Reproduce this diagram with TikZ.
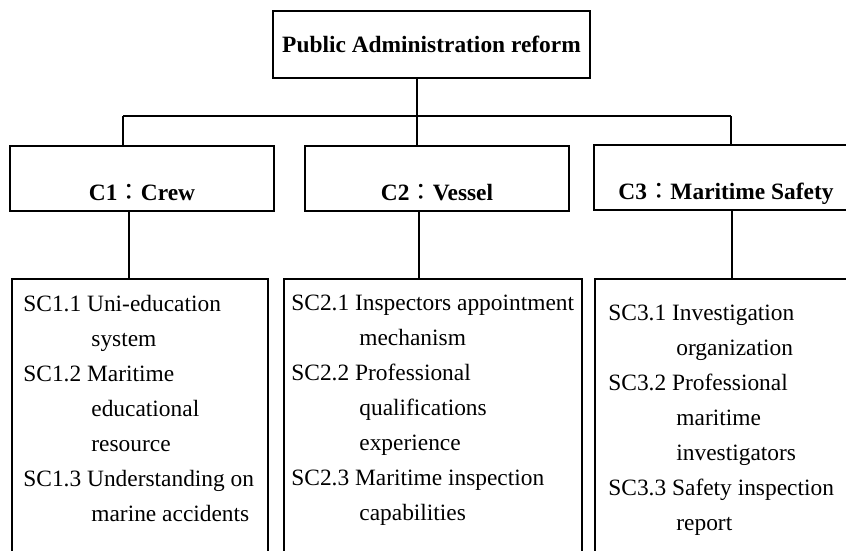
\documentclass[tikz,border=0pt]{standalone}
\usepackage{fontspec}
\setmainfont{Liberation Serif}
\newfontfamily\cjkfont{Noto Sans CJK TC}
\newcommand{\fcolon}{{\mdseries\cjkfont ：}}
\newcommand{\hang}{\hspace*{34pt}}

\tikzset{
    topbox/.style={draw, line width=0.9pt, minimum width=158.5pt, minimum height=33.5pt,
        font=\bfseries\fontsize{11.7}{14}\selectfont},
    critbox/.style={draw, line width=1.4pt, minimum width=132pt, minimum height=32.5pt,
        text height=23pt, text depth=1.5pt, font=\bfseries\fontsize{11.7}{14}\selectfont},
    subbox/.style={draw, line width=0.85pt, anchor=north west, minimum height=150pt},
    items/.style={anchor=north west, inner sep=0pt, align=left,
        font=\fontsize{11.7}{17.5}\selectfont},
    link/.style={line width=0.6pt}
}

\begin{document}
\begin{tikzpicture}[x=0.5pt, y=-0.5pt]
    \useasboundingbox (0,0) rectangle (846,551);
    \clip (0,0) rectangle (846,551);

    % goal and criteria
    \node[topbox] (reform) at (431.5,44.5) {Public Administration reform};
    \node[critbox] (c1) at (142,178.5) {C1\fcolon Crew};
    \node[critbox] (c2) at (437,178.5) {C2\fcolon Vessel};
    \node[critbox] (c3) at (726,177.5) {C3\fcolon Maritime Safety};

    % sub-criteria boxes (run off the page)
    \node[subbox, minimum width=128pt] (sub1) at (11,278) {};
    \node[subbox, minimum width=149pt] (sub2) at (283,278) {};
    \node[subbox, minimum width=149pt] (sub3) at (594,278) {};

    \node[items] (list1) at (23,295) {SC1.1 Uni-education\\ \hang system\\
        SC1.2 Maritime\\ \hang educational\\ \hang resource\\
        SC1.3 Understanding on\\ \hang marine accidents};
    \node[items] (list2) at (291,295) {SC2.1 Inspectors appointment\\ \hang mechanism\\
        SC2.2 Professional\\ \hang qualifications\\ \hang experience\\
        SC2.3 Maritime inspection\\ \hang capabilities};
    \node[items] (list3) at (608,305) {SC3.1 Investigation\\ \hang organization\\
        SC3.2 Professional\\ \hang maritime\\ \hang investigators\\
        SC3.3 Safety inspection\\ \hang report};

    % connectors
    \coordinate (j0) at (417,116);
    \coordinate (j1) at (123,116);
    \coordinate (j3) at (731,116);
    \coordinate (k1) at (129,0);
    \coordinate (k2) at (419,0);
    \coordinate (k3) at (732,0);
    \draw[link] (reform.south -| j0) -- (c2.north -| j0);
    \draw[link] (j1) -- (j3);
    \draw[link] (j1) -- (c1.north -| j1);
    \draw[link] (j3) -- (c3.north -| j3);
    \draw[link] (c1.south -| k1) -- (sub1.north -| k1);
    \draw[link] (c2.south -| k2) -- (sub2.north -| k2);
    \draw[link] (c3.south -| k3) -- (sub3.north -| k3);
\end{tikzpicture}
\end{document}
